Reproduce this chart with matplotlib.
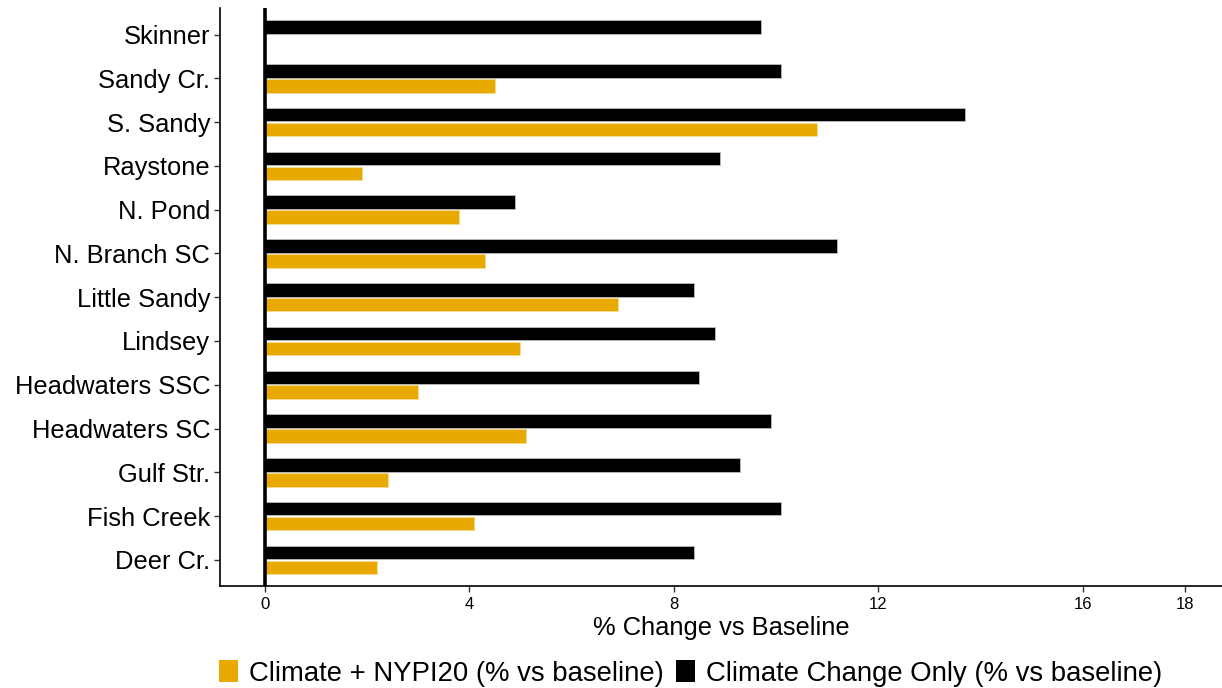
import matplotlib
matplotlib.use("Agg")
import matplotlib.pyplot as plt
from matplotlib.patches import Patch
import numpy as np

plt.rcParams['font.family'] = ['Liberation Sans', 'DejaVu Sans']

# Sites listed bottom to top
sites = ["Deer Cr.", "Fish Creek", "Gulf Str.", "Headwaters SC", "Headwaters SSC",
         "Lindsey", "Little Sandy", "N. Branch SC", "N. Pond", "Raystone",
         "S. Sandy", "Sandy Cr.", "Skinner"]
climate_only = [8.4, 10.1, 9.3, 9.9, 8.5, 8.8, 8.4, 11.2, 4.9, 8.9, 13.7, 10.1, 9.7]
climate_nypi20 = [2.2, 4.1, 2.4, 5.1, 3.0, 5.0, 6.9, 4.3, 3.8, 1.9, 10.8, 4.5, 0.0]
x_ticks = [0, 4, 8, 12, 16, 18]

gold = "#E8AA00"
black = "#000000"

fig = plt.figure(figsize=(12.22, 6.88), dpi=100)
ax = fig.add_axes([0.180, 0.148, 0.820, 0.840])

y = np.arange(len(sites))
h = 0.31
off = 0.17
ax.barh(y + off, climate_only, height=h, color=black, edgecolor="#BBBBBB", linewidth=0.6, zorder=2)
ax.barh(y - off, climate_nypi20, height=h, color=gold, edgecolor="#F6DC90", linewidth=0.6, zorder=2)

ax.axvline(0, color="black", linewidth=2.6, zorder=3)

ax.set_xlim(-0.88, 18.73)
ax.set_ylim(-0.6, len(sites) - 0.4)
ax.set_yticks(y)
ax.set_yticklabels(sites, fontsize=18.4)
ax.set_xticks(x_ticks)
ax.set_xticklabels([str(t) for t in x_ticks], fontsize=12)
ax.set_xlabel("% Change vs Baseline", fontsize=18.4, labelpad=3)

for s in ["top", "right"]:
    ax.spines[s].set_visible(False)
for s in ["left", "bottom"]:
    ax.spines[s].set_linewidth(1.2)
ax.tick_params(axis="both", length=4, width=1.0, color="#333333")
ax.tick_params(axis="x", pad=4)
ax.tick_params(axis="y", pad=3)

handles = [Patch(facecolor=gold, edgecolor="none", label="Climate + NYPI20 (% vs baseline)"),
           Patch(facecolor=black, edgecolor="none", label="Climate Change Only (% vs baseline)")]
fig.legend(handles=handles, loc="center", bbox_to_anchor=(0.565, 0.021), ncol=2,
           frameon=False, fontsize=19.8, handlelength=0.68, handleheight=0.85,
           handletextpad=0.4, columnspacing=0.45, borderpad=0, borderaxespad=0)

fig.savefig("out.png", dpi=100)
